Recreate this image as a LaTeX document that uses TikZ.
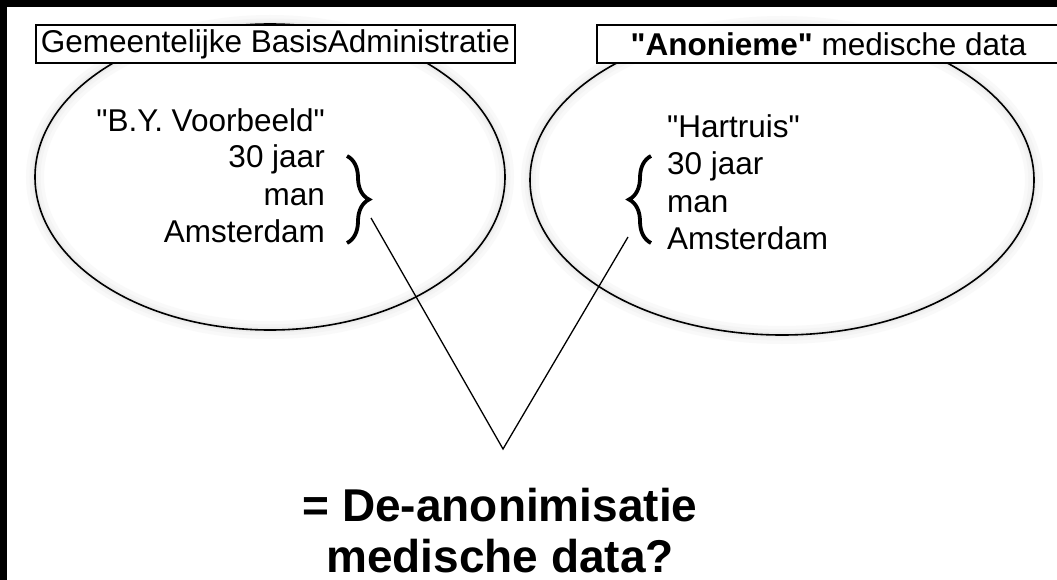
\documentclass[tikz,border=0pt]{standalone}
\usepackage{fontspec}
\setmainfont{Liberation Sans}
\usetikzlibrary{positioning, decorations.pathreplacing, shapes.geometric}

\begin{document}
\begin{tikzpicture}[x=1pt, y=-1pt]
  \tikzset{
    setshape/.style={ellipse, draw=black, line width=1.6pt, inner sep=0pt},
    halo/.style={ellipse, inner sep=0pt, draw=gray!#1},
    titlebox/.style={draw=black, line width=1.6pt, fill=white, inner sep=0pt, font=\fontsize{31.5}{36}\selectfont},
    entry/.style={inner sep=0pt, font=\fontsize{31.5}{36}\selectfont},
    bracemark/.style={decorate, decoration={brace, amplitude=22pt, aspect=0.5}, line width=3.8pt},
    link/.style={draw=black, line width=1.3pt},
    verdict/.style={inner sep=0pt, font=\bfseries\fontsize{46}{50}\selectfont},
  }
  % frame, black strip top and left
  \fill[black] (0,0) rectangle (1057,580);
  \fill[white] (7,7) rectangle (1057,580);
  \useasboundingbox (0,0) rectangle (1057,580);
  %% the two sets, soft glow first
  \foreach \c/\w in {5/18pt, 9/11pt, 15/5pt}{
    \node[halo=\c, line width=\w, minimum width=470pt, minimum height=306pt] at (270,177) {};
    \node[halo=\c, line width=\w, minimum width=504pt, minimum height=310pt] at (782,180) {};
  }
  \node[setshape, minimum width=470pt, minimum height=306pt] (gbaset) at (270,177) {};
  \node[setshape, minimum width=504pt, minimum height=310pt] (medset) at (782,180) {};
  %% titles
  \node[titlebox, minimum width=479pt, minimum height=38pt] (gba) at (275.5,44) {Gemeentelijke BasisAdministratie};
  \node[titlebox, minimum width=463pt, minimum height=38pt] (anon) at (828.5,44) {{\bfseries\textquotedbl Anonieme\textquotedbl} medische data};
  %% person record
  \node[entry, anchor=base east] (lname) at (325,132) {\textquotedbl B.Y. Voorbeeld\textquotedbl};
  \node[entry, anchor=base east] (lage) at (325,168) {30 jaar};
  \node[entry, anchor=base east] (lsex) at (325,205) {man};
  \node[entry, anchor=base east] (lcity) at (325,242) {Amsterdam};
  %% medical record
  \node[entry, anchor=base west] (rname) at (667,138) {\textquotedbl Hartruis\textquotedbl};
  \node[entry, anchor=base west] (rage) at (667,175) {30 jaar};
  \node[entry, anchor=base west] (rsex) at (667,212) {man};
  \node[entry, anchor=base west] (rcity) at (667,249) {Amsterdam};
  \draw[bracemark] (347,156) -- (347,243);
  \draw[bracemark] (651,243) -- (651,156);
  %% conclusion
  \coordinate (lfoot) at (371,218);
  \coordinate (rfoot) at (628,237);
  \coordinate (apex) at (503,449);
  \draw[link] (lfoot) -- (apex) -- (rfoot);
  \node[verdict, anchor=base] (deanon) at (500,521) {= De-anonimisatie};
  \node[verdict, anchor=base] (meddata) at (500,572) {medische data?};
\end{tikzpicture}
\end{document}
